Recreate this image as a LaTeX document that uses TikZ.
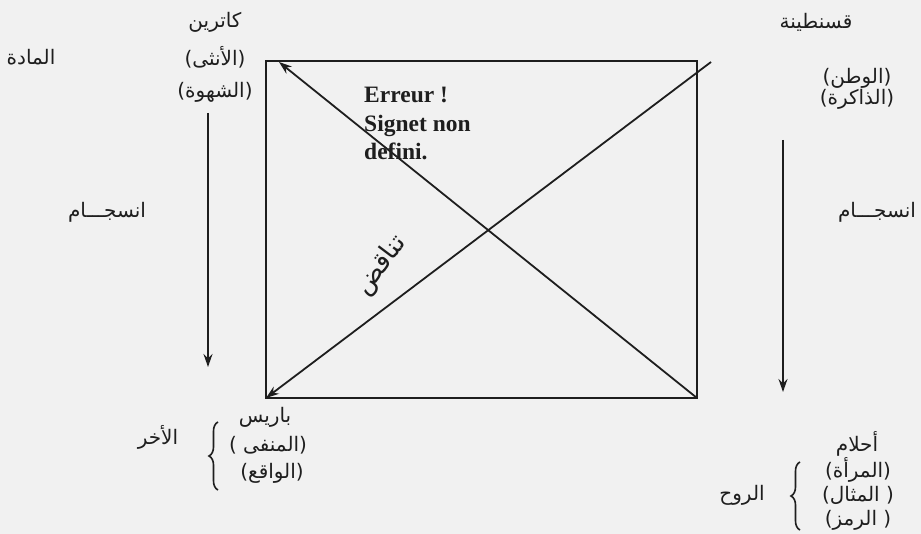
\documentclass[tikz,border=0pt]{standalone}
\usepackage{fontspec}
\setmainfont{Liberation Serif}
\newfontfamily\ar[Script=Arabic]{DejaVu Sans}
\newfontfamily\parf{DejaVu Sans}
\TeXXeTstate=1
\usetikzlibrary{arrows.meta,decorations.pathreplacing}
\definecolor{paper}{RGB}{241,241,241}
\definecolor{ink}{RGB}{30,30,30}
\begin{document}
\begin{tikzpicture}[x=1pt,y=-1pt,
  lbl/.style={font=\ar\fontsize{20}{22}\selectfont, text=ink, inner sep=0pt},
  edge/.style={draw=ink, line width=1.8pt},
  arr/.style={edge, -{Stealth[length=13pt,width=9pt]}},
  brc/.style={draw=ink, line width=1.6pt, decorate, decoration={brace, amplitude=9pt}}]
\fill[paper] (0,0) rectangle (921,534);
\useasboundingbox (0,0) rectangle (921,534);
% corners
\coordinate (TL) at (266,61);
\coordinate (TR) at (697,61);
\coordinate (BL) at (266,398);
\coordinate (BR) at (697,398);
\coordinate (tipA) at (279,62);
\coordinate (startB) at (711,62);
\coordinate (lA) at (208,113);
\coordinate (lB) at (208,367);
\coordinate (rA) at (783,140);
\coordinate (rB) at (783,392);
\draw[edge] (TL) -- (TR) -- (BR) -- (BL) -- cycle;
\draw[arr] (BR) -- (tipA);
\draw[arr] (startB) -- (BL);
\draw[arr] (lA) -- (lB);
\draw[arr] (rA) -- (rB);
% labels
\node[lbl] (mada) at (31,57) {\beginR المادة\endR};
\node[lbl] (katrin) at (215,22) {\beginR كاترين\endR};
\node[lbl] (untha) at (215,57) {\beginR{\parf)}الأنثى{\parf(}\endR};
\node[lbl] (shahwa) at (215,92) {\beginR{\parf)}الشهوة{\parf(}\endR};
\node[lbl] (qsan) at (816,22) {\beginR قسنطينة\endR};
\node[lbl] (watan) at (857,78) {\beginR{\parf)}الوطن{\parf(}\endR};
\node[lbl] (dhakira) at (857,99) {\beginR{\parf)}الذاكرة{\parf(}\endR};
\node[lbl] (insL) at (107,212) {\beginR انسجـــام\endR};
\node[lbl] (insR) at (877,212) {\beginR انسجـــام\endR};
\node[font=\bfseries\fontsize{23.5}{28.5}\selectfont, text=ink, align=left, anchor=north west, inner sep=0pt] (err) at (364,87) {Erreur !\\Signet non\\defini.};
\node[lbl, font=\ar\fontsize{26}{28}\selectfont, rotate=53] (tanaqud) at (381,266) {\beginR تناقض\endR};
\node[lbl] (paris) at (265,417) {\beginR باريس\endR};
\node[lbl] (manfa) at (268,445) {\beginR{\parf)}المنفى\ {\parf(}\endR};
\node[lbl] (waqi) at (272,473) {\beginR{\parf)}الواقع{\parf(}\endR};
\node[lbl] (akhar) at (158,437) {\beginR الأخر\endR};
\node[lbl] (ahlam) at (857,444) {\beginR أحلام\endR};
\node[lbl] (mara) at (858,470) {\beginR{\parf)}المرأة{\parf(}\endR};
\node[lbl] (mithal) at (858,495) {\beginR{\parf)}\ المثال{\parf(}\endR};
\node[lbl] (ramz) at (858,520) {\beginR{\parf)}\ الرمز{\parf(}\endR};
\node[lbl] (ruh) at (742,495) {\beginR الروح\endR};
\draw[brc] (218,490) -- (218,422);
\draw[brc] (800,530) -- (800,462);
\end{tikzpicture}
\end{document}
